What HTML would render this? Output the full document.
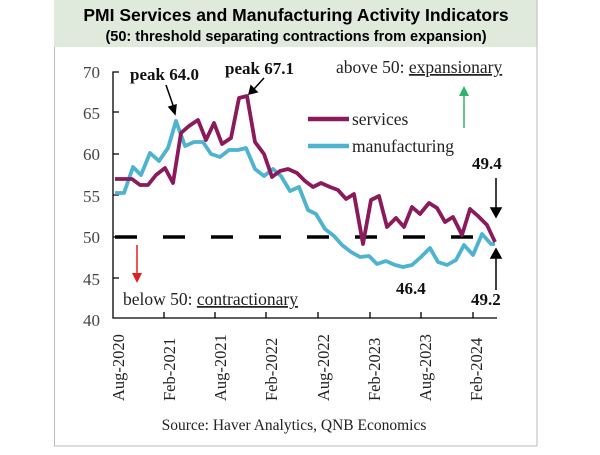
<!DOCTYPE html>
<html><head><meta charset="utf-8"><style>
body{margin:0;background:#fff;width:600px;height:450px;overflow:hidden}
</style></head><body>
<svg width="600" height="450" xmlns="http://www.w3.org/2000/svg" font-family="Liberation Serif, serif">
<rect x="54" y="0" width="483" height="47" fill="#dfe9dc"/>
<line x1="54.5" y1="47" x2="54.5" y2="446" stroke="#bbb"/>
<line x1="537" y1="0" x2="537" y2="446" stroke="#bbb"/>
<line x1="54" y1="446" x2="537" y2="446" stroke="#bbb"/>
<text x="296" y="21" text-anchor="middle" font-family="Liberation Sans, sans-serif" font-weight="bold" font-size="17.5">PMI Services and Manufacturing Activity Indicators</text>
<text x="296" y="41" text-anchor="middle" font-family="Liberation Sans, sans-serif" font-weight="bold" font-size="14.5">(50: threshold separating contractions from expansion)</text>
<g font-size="17" fill="#444" text-anchor="end">
<text x="100" y="78">70</text><text x="100" y="119">65</text><text x="100" y="160">60</text><text x="100" y="202">55</text><text x="100" y="243">50</text><text x="100" y="285">45</text><text x="100" y="326">40</text>
</g>
<g stroke="#000" stroke-width="1.3" fill="none">
<path d="M119 72 H113 V318 H497"/>
<path d="M113 112h6M113 154h6M113 195h6M113 237h6M113 278h6"/>
<path d="M164 318v-6M215 318v-6M266 318v-6M318 318v-6M370 318v-6M421 318v-6M473 318v-6"/>
</g>
<g font-size="16.5" fill="#222">
<text transform="translate(124,401) rotate(-90)">Aug-2020</text>
<text transform="translate(175,401) rotate(-90)">Feb-2021</text>
<text transform="translate(226,401) rotate(-90)">Aug-2021</text>
<text transform="translate(277,401) rotate(-90)">Feb-2022</text>
<text transform="translate(329,401) rotate(-90)">Aug-2022</text>
<text transform="translate(380,401) rotate(-90)">Feb-2023</text>
<text transform="translate(431,401) rotate(-90)">Aug-2023</text>
<text transform="translate(482,401) rotate(-90)">Feb-2024</text>
</g>
<text x="294" y="430" text-anchor="middle" font-size="15.5" fill="#222">Source: Haver Analytics, QNB Economics</text>
<line x1="115" y1="237" x2="497" y2="237" stroke="#000" stroke-width="3.5" stroke-dasharray="22,26"/>
<polyline fill="none" stroke="#4db3d0" stroke-width="3.8" stroke-linejoin="round" points="115,193 124,193 133,167 141,175 150,153 159,161 168,148 176,121 185,146 194,142 203,142 211,154 220,157 229,150 238,150 246,148 255,169 264,176 273,169 281,176 290,191 299,187 308,210 316,214 325,229 334,236 342,245 351,252 360,257 369,256 377,264 386,261 395,265 403,267 412,265 421,257 430,248 438,262 447,265 456,260 464,245 473,255 482,234 491,244 495,244"/>
<polyline fill="none" stroke="#8b1a5c" stroke-width="3.8" stroke-linejoin="round" points="115,179 123,179 132,179 140,185 148,185 156,175 165,168 173,183 181,133 189,126 198,120 206,140 214,123 222,144 231,138 239,98 247,96 255,142 264,154 272,177 280,171 288,169 297,173 305,181 313,187 321,183 330,187 338,190 346,199 354,194 363,244 371,200 379,196 387,227 396,218 404,227 412,207 420,214 429,203 437,208 445,222 453,217 462,235 470,209 478,216 487,225 495,242"/>
<g font-size="17.5" fill="#222">
<line x1="308" y1="119" x2="349" y2="119" stroke="#8b1a5c" stroke-width="4.5"/>
<text x="352" y="125">services</text>
<line x1="308" y1="146" x2="349" y2="146" stroke="#4db3d0" stroke-width="4.5"/>
<text x="352" y="152">manufacturing</text>
<text x="336" y="73">above 50: <tspan text-decoration="underline">expansionary</tspan></text>
<text x="123" y="305">below 50: <tspan text-decoration="underline">contractionary</tspan></text>
</g>
<g font-size="17" font-weight="bold" fill="#111">
<text x="130" y="80">peak 64.0</text>
<text x="225" y="74">peak 67.1</text>
<text x="472" y="169">49.4</text>
<text x="396" y="294">46.4</text>
<text x="471" y="305">49.2</text>
</g>
<g stroke="#000" stroke-width="1.5">
<line x1="166" y1="85" x2="174" y2="108"/><path d="M169 107l6 7 1-9z" fill="#000"/>
<line x1="264" y1="78" x2="254" y2="89"/><path d="M251 86l-2 8 8-2z" fill="#000"/>
<line x1="496" y1="178" x2="496" y2="210"/><path d="M491 208l5 9 5-9z" fill="#000"/>
<line x1="496" y1="290" x2="496" y2="256"/><path d="M491 258l5-9 5 9z" fill="#000"/>
</g>
<line x1="464" y1="92" x2="464" y2="128" stroke="#2fb36a" stroke-width="1.5"/>
<path d="M459 96l5-10 5 10z" fill="#2fb36a"/>
<line x1="137" y1="245" x2="137" y2="275" stroke="#e02020" stroke-width="1.5"/>
<path d="M132 273l5 10 5-10z" fill="#e02020"/>
</svg>
</body></html>
